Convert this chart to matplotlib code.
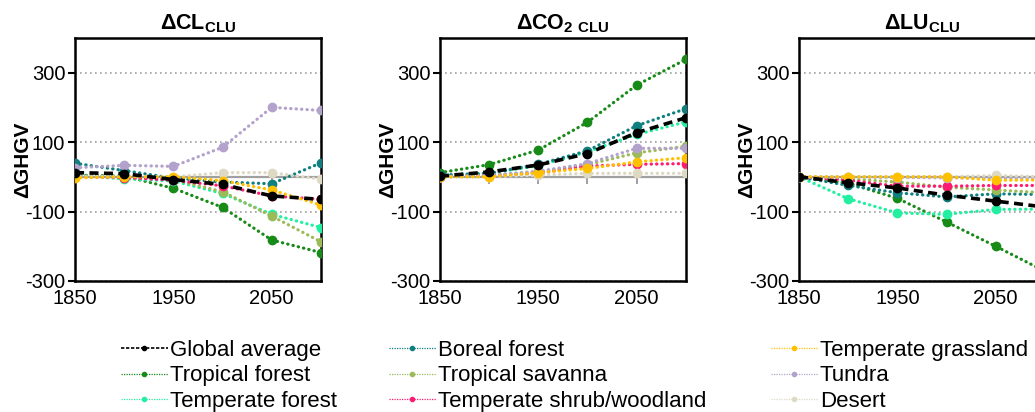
import numpy as np
import matplotlib.pyplot as plt
from matplotlib.lines import Line2D

plt.rcParams['font.family'] = ['Liberation Sans', 'DejaVu Sans']
plt.rcParams['mathtext.fontset'] = 'custom'
plt.rcParams['mathtext.rm'] = 'Liberation Sans'
plt.rcParams['mathtext.bf'] = 'Liberation Sans:bold'
plt.rcParams['axes.unicode_minus'] = False

years = [1850, 1900, 1950, 2000, 2050, 2100]
xtick_labels = [1850, 1950, 2050]
ytick_values = [-300, -100, 100, 300]

names = ['Global average', 'Tropical forest', 'Temperate forest',
         'Boreal forest', 'Tropical savanna', 'Temperate shrub/woodland',
         'Temperate grassland', 'Tundra', 'Desert']
colors = ['black', '#178A17', '#22F0A0', '#0F7F80', '#9BBB59', '#FF1A72',
          '#FFC000', '#B3A2CB', '#DDD9C3']

# delta CL_CLU
global_cl = [12, 9, -8, -22, -55, -65]
tropical_forest_cl = [5, 2, -33, -88, -182, -218]
temperate_forest_cl = [4, -6, -12, -48, -108, -146]
boreal_cl = [39, 18, -4, -15, -20, 40]
savanna_cl = [3, 0, -8, -43, -113, -187]
shrub_cl = [0, -2, -10, -26, -55, -65]
grassland_cl = [-3, 0, 0, -11, -38, -81]
tundra_cl = [26, 33, 30, 85, 200, 191]
desert_cl = [0, 1, 0, 12, 12, -7]

# delta CO2_CLU
global_co2 = [2, 14, 34, 67, 127, 170]
tropical_forest_co2 = [12, 35, 77, 157, 264, 338]
temperate_forest_co2 = [3, 10, 32, 72, 122, 158]
boreal_co2 = [5, 10, 36, 75, 147, 196]
savanna_co2 = [0, 5, 14, 35, 69, 88]
shrub_co2 = [0, 3, 10, 31, 36, 38]
grassland_co2 = [0, 0, 12, 24, 43, 55]
tundra_co2 = [0, 4, 16, 38, 82, 82]
desert_co2 = [0, 0, 5, 10, 10, 10]

# delta LU_CLU
global_lu = [0, -17, -32, -53, -70, -87]
tropical_forest_lu = [0, -18, -62, -130, -200, -272]
temperate_forest_lu = [0, -63, -104, -108, -94, -93]
boreal_lu = [0, -25, -46, -58, -49, -51]
savanna_lu = [0, -6, -15, -30, -38, -46]
shrub_lu = [0, -10, -27, -27, -25, -25]
grassland_lu = [0, 0, 0, 0, -10, -9]
tundra_lu = [0, -1, -2, -3, -3, -3]
desert_lu = [0, 0, 0, 0, 4, 0]

panels = [
    (r'$\mathbf{\Delta CL}_{\mathbf{CLU}}$',
     [global_cl, tropical_forest_cl, temperate_forest_cl, boreal_cl, savanna_cl,
      shrub_cl, grassland_cl, tundra_cl, desert_cl]),
    (r'$\mathbf{\Delta CO}_{\mathbf{2\ CLU}}$',
     [global_co2, tropical_forest_co2, temperate_forest_co2, boreal_co2, savanna_co2,
      shrub_co2, grassland_co2, tundra_co2, desert_co2]),
    (r'$\mathbf{\Delta LU}_{\mathbf{CLU}}$',
     [global_lu, tropical_forest_lu, temperate_forest_lu, boreal_lu, savanna_lu,
      shrub_lu, grassland_lu, tundra_lu, desert_lu]),
]

fig = plt.figure(figsize=(10.35, 4.12), dpi=100)
lefts = [0.0725, 0.4251, 0.772]
# draw order: biomes first, then global average, grassland on top
order = [1, 2, 3, 4, 5, 7, 8, 0, 6]

for left, (title, series) in zip(lefts, panels):
    ax = fig.add_axes([left, 0.318, 0.2375, 0.59])
    ax.set_xlim(1850, 2100)
    ax.set_ylim(-300, 400)
    ax.set_yticks(ytick_values)
    ax.set_xticks(xtick_labels)
    ax.yaxis.grid(True, linestyle=(0, (1, 2)), color='#A0A0A0', linewidth=1.2)
    ax.set_axisbelow(True)
    # zero axis line with small category ticks
    ax.plot(years, np.zeros(len(years)), color='#A0A0A0', linewidth=1.6,
            marker=3, markersize=5, markeredgewidth=1.4, zorder=1)
    for i in order:
        if i == 0:
            ax.plot(years, series[i], color=colors[i], linestyle=(0, (2.5, 1.5)),
                    linewidth=2.6, marker='o', markersize=6, zorder=4)
        else:
            ax.plot(years, series[i], color=colors[i], linestyle=(0, (0.1, 1.6)),
                    linewidth=2.3, marker='o', markersize=6,
                    dash_capstyle='round', zorder=3)
    for s in ax.spines.values():
        s.set_linewidth(1.8)
    ax.tick_params(axis='y', direction='out', length=5, width=1.5, labelsize=14.5, pad=2)
    ax.tick_params(axis='x', length=0, labelsize=14.5, pad=6)
    ax.set_title(title, fontsize=15.5, pad=6)
    ax.text(-0.215, 0.5, 'ΔGHGV', transform=ax.transAxes, rotation=90,
            ha='center', va='center', fontsize=15, fontweight='bold')

# legend in three columns
leg_x = [0.117, 0.376, 0.745]
for c in range(3):
    hs = []
    for i in range(c * 3, c * 3 + 3):
        if i == 0:
            h = Line2D([], [], color='black', linestyle=(0, (2, 1)), linewidth=1.2,
                       marker='o', markersize=3)
        else:
            h = Line2D([], [], color=colors[i], linestyle=(0, (1, 1)), linewidth=0.9,
                       marker='o', markersize=3)
        hs.append(h)
    fig.legend(hs, names[c * 3:c * 3 + 3], loc='upper left',
               bbox_to_anchor=(leg_x[c], 0.175), frameon=False, fontsize=16,
               handlelength=2.1, handletextpad=0.1, labelspacing=0.2,
               borderpad=0, borderaxespad=0)

fig.savefig('out.png', dpi=100)
